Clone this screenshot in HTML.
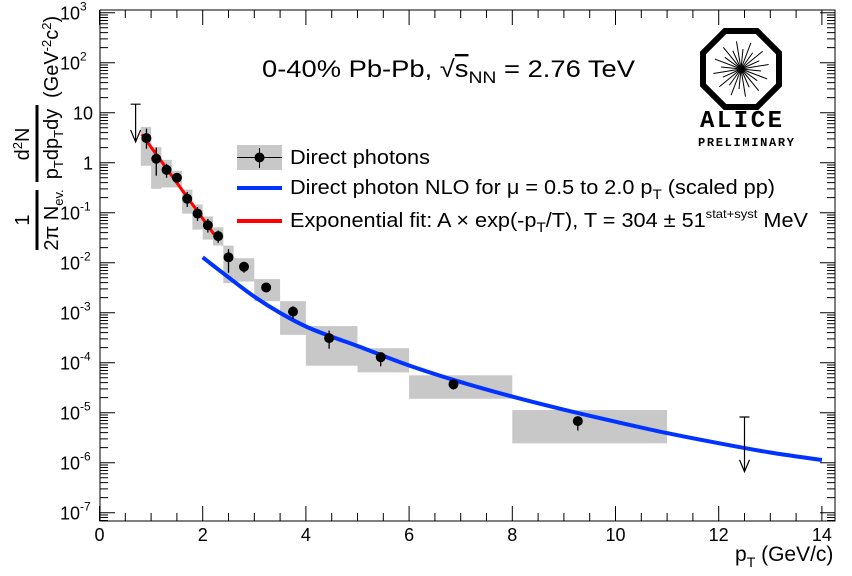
<!DOCTYPE html>
<html><head><meta charset="utf-8"><style>
html,body{margin:0;padding:0;background:#fff;}
svg{display:block;font-family:"Liberation Sans",Arial,sans-serif;}
</style></head><body>
<svg id="chart" width="852" height="576" viewBox="0 0 852 576" xmlns="http://www.w3.org/2000/svg">
<g id="boxes"></g>
<g id="curves"></g>
<g id="points"></g>
<g id="axes"></g>
<rect x="100" y="10" width="735" height="511" fill="none" stroke="#000" stroke-width="1"/>
<text x="262" y="77" font-size="24" textLength="373" lengthAdjust="spacingAndGlyphs">0-40%  Pb-Pb, <tspan>√</tspan><tspan text-decoration="overline">s</tspan><tspan font-size="17" dy="6">NN</tspan><tspan dy="-6"> = 2.76 TeV</tspan></text>
<g font-size="20">
 <g>
  <rect x="237" y="145" width="45" height="25" fill="#c8c8c8"/>
  <line x1="237" y1="157.5" x2="282" y2="157.5" stroke="#000"/>
  <line x1="259.5" y1="148" x2="259.5" y2="168" stroke="#000"/>
  <circle cx="259.5" cy="157.5" r="5" fill="#000"/>
  <text x="290" y="164" textLength="140" lengthAdjust="spacingAndGlyphs">Direct photons</text>
 </g>
 <g>
  <line x1="237" y1="188" x2="282" y2="188" stroke="#0033ff" stroke-width="4"/>
  <text x="290" y="194" textLength="485" lengthAdjust="spacingAndGlyphs">Direct photon NLO for μ = 0.5 to 2.0 p<tspan font-size="14" dy="5">T</tspan><tspan dy="-5"> (scaled pp)</tspan></text>
 </g>
 <g>
  <line x1="237" y1="221" x2="282" y2="221" stroke="#ff0000" stroke-width="4"/>
  <text x="290" y="227" textLength="518" lengthAdjust="spacingAndGlyphs">Exponential fit: A × exp(-p<tspan font-size="14" dy="5">T</tspan><tspan dy="-5">/T), T = 304 ± 51</tspan><tspan font-size="12" dy="-9">stat+syst</tspan><tspan dy="9"> MeV</tspan></text>
 </g>
</g>
<g>
 <polygon points="725,31 757,31 779,53 779,85 757,107 725,107 703,85 703,53" fill="none" stroke="#000" stroke-width="6"/>
 <g id="rays" stroke="#000" stroke-width="1"></g>
 <text x="741" y="127" font-size="24" font-weight="bold" font-family="Liberation Mono,monospace" text-anchor="middle" textLength="82">ALICE</text>
 <text x="746" y="146" font-size="12" font-weight="bold" font-family="Liberation Mono,monospace" text-anchor="middle" textLength="96">PRELIMINARY</text>
</g>
<text x="735" y="561" font-size="21">p<tspan font-size="14" dy="6">T</tspan><tspan dy="-6"> (GeV/c)</tspan></text>
<g transform="translate(0,576) rotate(-90)" font-size="20">
 <line x1="326" y1="37" x2="386" y2="37" stroke="#000" stroke-width="3"/>
 <text x="356" y="29" text-anchor="middle">1</text>
 <text x="356" y="58" text-anchor="middle">2π N<tspan font-size="13" dy="5">ev.</tspan></text>
 <line x1="394" y1="37" x2="471" y2="37" stroke="#000" stroke-width="3"/>
 <text x="432" y="29" text-anchor="middle">d<tspan font-size="13" dy="-7">2</tspan><tspan dy="7">N</tspan></text>
 <text x="432" y="58" text-anchor="middle">p<tspan font-size="13" dy="5">T</tspan><tspan dy="-5">dp</tspan><tspan font-size="13" dy="5">T</tspan><tspan dy="-5">dy</tspan></text>
 <text x="478" y="58">(GeV<tspan font-size="13" dy="-7">-2</tspan><tspan dy="7">c</tspan><tspan font-size="13" dy="-7">2</tspan><tspan dy="7">)</tspan></text>
</g>
</svg>
<script>
const ptVals=[0.91,1.1,1.3,1.5,1.7,1.9,2.1,2.3,2.5,2.8,3.23,3.75,4.45,5.45,6.86,9.27];
const yVals=[3.1,1.2,0.72,0.50,0.19,0.096,0.056,0.034,0.0128,0.0083,0.0032,0.00105,3.1e-4,1.29e-4,3.7e-5,6.8e-6];
const statHi=[4.8,2.0,0.95,0.62,0.26,0.13,0.075,0.044,0.0187,0.010,0.0038,0.00135,4.4e-4,1.6e-4,4.4e-5,8.2e-6];
const statLo=[1.9,0.55,0.5,0.40,0.13,0.068,0.04,0.025,0.0063,0.0063,0.0026,0.00075,1.9e-4,8.5e-5,2.9e-5,4.4e-6];
const binLo=[0.8,1.0,1.2,1.4,1.6,1.8,2.0,2.2,2.4,2.6,3.0,3.5,4,5,6,8];
const binHi=[1.0,1.2,1.4,1.6,1.8,2.0,2.2,2.4,2.6,3.0,3.5,4,5,6,8,11];
const sysHi=[5.2,2.07,1.14,0.69,0.29,0.146,0.084,0.051,0.022,0.0123,0.0047,0.0017,5.4e-4,1.95e-4,5.6e-5,1.13e-5];
const sysLo=[0.87,0.30,0.32,0.32,0.096,0.046,0.029,0.022,0.0039,0.0042,0.0017,3.6e-4,8.7e-5,6.4e-5,1.9e-5,2.44e-6];
const limX=[0.7,12.5];
const limY=[14.8,8.2e-6];
const limTip=[2.6,6.6e-7];
const nloX=[2.0,2.5,3,3.5,4,4.5,5,6,7,8,9,10,11,12,13,14];
const nloY=[0.0128,0.0051,0.0021,9.9e-4,5.3e-4,3.3e-4,2.16e-4,8.8e-5,4.1e-5,2.1e-5,1.15e-5,6.6e-6,3.9e-6,2.45e-6,1.6e-6,1.13e-6];
const fitA=[55];
const fitT=[0.304];
const fitRange=[0.82,2.22];
const xTicks=[0,2,4,6,8,10,12,14];
const yExps=[3,2,1,0,-1,-2,-3,-4,-5,-6,-7];

const NS="http://www.w3.org/2000/svg";
const X=v=>99.5+51.6*v;
const Y=v=>12.7+(3-Math.log10(v))*50;
function mk(tag,attrs,parent){const e=document.createElementNS(NS,tag);for(const k in attrs)e.setAttribute(k,attrs[k]);parent.appendChild(e);return e;}
const boxes=document.getElementById('boxes'),pts=document.getElementById('points'),cur=document.getElementById('curves'),axes=document.getElementById('axes');
for(let i=0;i<ptVals.length;i++){
 const b=mk('rect',{x:X(binLo[i]),y:Y(sysHi[i]),width:X(binHi[i])-X(binLo[i]),height:Y(sysLo[i])-Y(sysHi[i]),fill:'#c8c8c8'},boxes);
 
 
}
const P=nloX.map((x,i)=>[X(x),Y(nloY[i])]);
let d='M'+P[0][0].toFixed(1)+','+P[0][1].toFixed(1);
for(let i=0;i<P.length-1;i++){
 const p0=P[Math.max(0,i-1)],p1=P[i],p2=P[i+1],p3=P[Math.min(P.length-1,i+2)];
 const c1=[p1[0]+(p2[0]-p0[0])/6,p1[1]+(p2[1]-p0[1])/6],c2=[p2[0]-(p3[0]-p1[0])/6,p2[1]-(p3[1]-p1[1])/6];
 d+=`C${c1[0].toFixed(1)},${c1[1].toFixed(1)} ${c2[0].toFixed(1)},${c2[1].toFixed(1)} ${p2[0].toFixed(1)},${p2[1].toFixed(1)}`;
}
const nl=mk('path',{d:d,fill:'none',stroke:'#0033ff','stroke-width':4},cur);


d='';for(let k=0;k<=40;k++){const x=fitRange[0]+(fitRange[1]-fitRange[0])*k/40;d+=(k?'L':'M')+X(x).toFixed(1)+','+Y(fitA[0]*Math.exp(-x/fitT[0])).toFixed(1);}
const fl=mk('path',{d:d,fill:'none',stroke:'#ff0000','stroke-width':3},cur);


for(let i=0;i<ptVals.length;i++){
 const l=mk('line',{x1:X(ptVals[i]),x2:X(ptVals[i]),y1:Y(statHi[i]),y2:Y(statLo[i]),stroke:'#000','stroke-width':1.3},pts);
 
 
 const c=mk('circle',{cx:X(ptVals[i]),cy:Y(yVals[i]),r:5,fill:'#000'},pts);
 
 
}
for(let i=0;i<limX.length;i++){
 const x=X(limX[i]),y1=Y(limY[i]),y2=Y(limTip[i]);
 const g=mk('path',{d:`M${x-5},${y1}H${x+5}M${x},${y1}V${y2}M${x-5},${y2-12}L${x},${y2}L${x+5},${y2-12}`,fill:'none',stroke:'#000','stroke-width':1.2},pts);
 
 
}
const B=521,T=10,Lx=100,Rx=835;
let td='';
for(let v=0;v<=14.001;v+=0.5){const maj=Math.abs(v/2-Math.round(v/2))<1e-6;const len=maj?15:8;td+=`M${X(v)},${B}v${-len}M${X(v)},${T}v${len}`;}
for(let e=-8;e<=3;e++){for(let m=1;m<10;m++){const v=m*Math.pow(10,e);const y=Y(v);if(y<T||y>B)continue;const len=m==1?15:8;td+=`M${Lx},${y}h${len}M${Rx},${y}h${-len}`;}}
mk('path',{d:td,stroke:'#000','stroke-width':1,fill:'none'},axes);
xTicks.forEach(v=>{const t=mk('text',{x:X(v),y:541,'font-size':18,'text-anchor':'middle'},axes);t.textContent=v;
 
 });
yExps.forEach(e=>{const t=mk('text',{x:e>=0&&e<=1?93:80,y:Y(Math.pow(10,e))+7,'font-size':18,'text-anchor':'end'},axes);
 
 
 if(e==0){t.textContent='1';}else if(e==1){t.textContent='10';}
 else{t.textContent='10';const s=mk('tspan',{'font-size':12,dy:-9,x:80},t);s.setAttribute('text-anchor','start');s.textContent=String(e);t.setAttribute('x',80);}
});
const rays=document.getElementById('rays');
for(let k=0;k<24;k++){const a=k*Math.PI/12+0.1;const r=k%2?28:20;mk('line',{x1:741,y1:69,x2:741+r*Math.cos(a),y2:69+r*Math.sin(a)},rays);}
</script>
</body></html>
